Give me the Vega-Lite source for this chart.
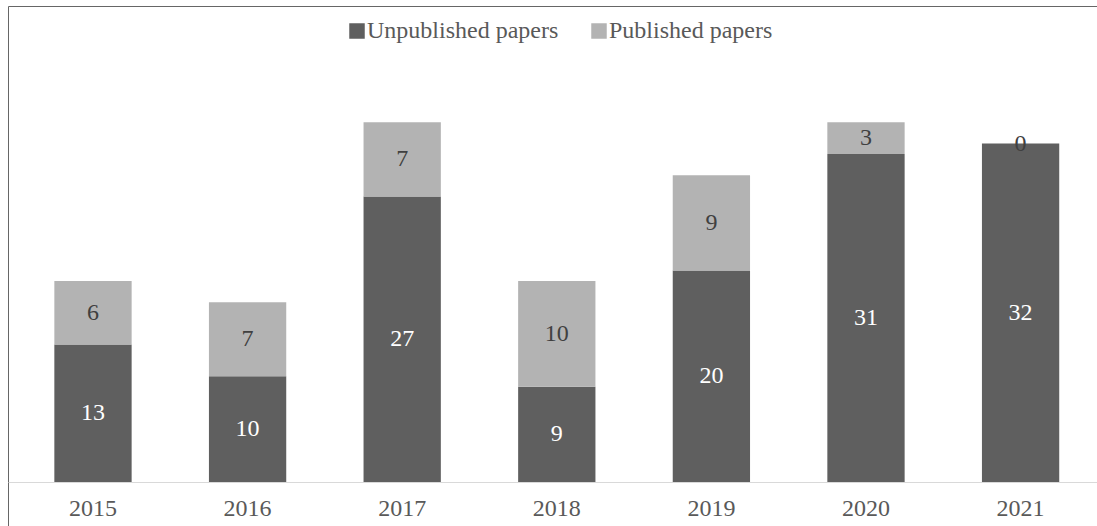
{
  "$schema": "https://vega.github.io/schema/vega-lite/v6.json",
  "width": 1089,
  "height": 520,
  "autosize": {"type": "none"},
  "padding": {"left": 8, "top": 6, "right": 0, "bottom": 0},
  "background": "white",
  "config": {
    "view": {"stroke": "#666666", "strokeWidth": 1},
    "font": "Liberation Serif"
  },
  "data": {
    "values": [
      {"year": "2015", "status": "Unpublished papers", "order": 0, "count": 13},
      {"year": "2015", "status": "Published papers", "order": 1, "count": 6},
      {"year": "2016", "status": "Unpublished papers", "order": 0, "count": 10},
      {"year": "2016", "status": "Published papers", "order": 1, "count": 7},
      {"year": "2017", "status": "Unpublished papers", "order": 0, "count": 27},
      {"year": "2017", "status": "Published papers", "order": 1, "count": 7},
      {"year": "2018", "status": "Unpublished papers", "order": 0, "count": 9},
      {"year": "2018", "status": "Published papers", "order": 1, "count": 10},
      {"year": "2019", "status": "Unpublished papers", "order": 0, "count": 20},
      {"year": "2019", "status": "Published papers", "order": 1, "count": 9},
      {"year": "2020", "status": "Unpublished papers", "order": 0, "count": 31},
      {"year": "2020", "status": "Published papers", "order": 1, "count": 3},
      {"year": "2021", "status": "Unpublished papers", "order": 0, "count": 32},
      {"year": "2021", "status": "Published papers", "order": 1, "count": 0}
    ]
  },
  "transform": [
    {"stack": "count", "groupby": ["year"], "sort": [{"field": "order", "order": "ascending"}], "as": ["y0", "y1"]}
  ],
  "encoding": {
    "x": {
      "field": "year",
      "type": "nominal",
      "sort": null,
      "title": null,
      "scale": {"paddingInner": 0.5, "paddingOuter": 0.272, "align": 0.551},
      "axis": {
        "orient": "bottom",
        "offset": -44,
        "domainColor": "#d9d9d9",
        "domainWidth": 1,
        "ticks": false,
        "labelAngle": 0,
        "labelColor": "#595959",
        "labelFont": "Liberation Serif",
        "labelFontSize": 24,
        "labelPadding": 14,
        "grid": false
      }
    }
  },
  "layer": [
    {
      "mark": {"type": "bar"},
      "encoding": {
        "y": {
          "field": "y0",
          "type": "quantitative",
          "scale": {"domain": [-4.16, 45], "nice": false, "zero": false},
          "axis": null
        },
        "y2": {"field": "y1"},
        "color": {
          "field": "status",
          "type": "nominal",
          "sort": ["Unpublished papers", "Published papers"],
          "scale": {"domain": ["Unpublished papers", "Published papers"], "range": ["#5f5f5f", "#b3b3b3"]},
          "legend": {
            "title": null,
            "orient": "none",
            "direction": "horizontal",
            "legendX": 337,
            "legendY": 13,
            "padding": 0,
            "symbolType": "square",
            "symbolSize": 240,
            "symbolStrokeWidth": 0,
            "labelFont": "Liberation Serif",
            "labelFontSize": 24,
            "labelColor": "#595959",
            "labelOffset": -2,
            "columnPadding": 28,
            "labelLimit": 400
          }
        }
      }
    },
    {
      "transform": [
        {"fold": ["y0", "y1"], "as": ["edge", "pos"]},
        {"aggregate": [{"op": "mean", "field": "pos", "as": "mid"}], "groupby": ["year", "status", "count"]}
      ],
      "mark": {"type": "text", "font": "Liberation Serif", "fontSize": 24, "baseline": "middle", "align": "center"},
      "encoding": {
        "y": {
          "field": "mid",
          "type": "quantitative",
          "scale": {"domain": [-4.16, 45], "nice": false, "zero": false},
          "axis": null
        },
        "text": {"field": "count", "type": "quantitative"},
        "color": {
          "condition": {"test": "datum.status === 'Unpublished papers'", "value": "#ffffff"},
          "value": "#404040"
        }
      }
    }
  ]
}
